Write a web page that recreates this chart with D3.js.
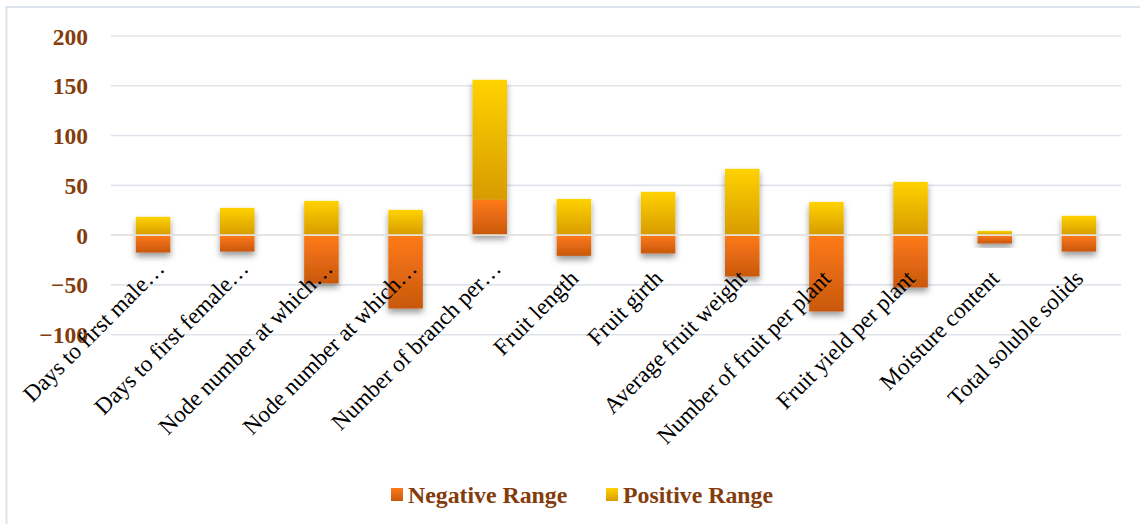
<!DOCTYPE html>
<html><head><meta charset="utf-8">
<script src="https://cdn.jsdelivr.net/npm/d3@7"></script>
<style>
html,body{margin:0;padding:0;background:#fff;overflow:hidden;}
</style></head>
<body>
<svg id="chart" width="1140" height="524"></svg>
<script>
const categories = ["Days to first male…","Days to first female…","Node number at which…","Node number at which…","Number of branch per…","Fruit length","Fruit girth","Average fruit weight","Number of fruit per plant","Fruit yield per plant","Moisture content","Total soluble solids"];
const negativeRange = [-17.5,-16.5,-48.6,-73.7,35.5,-20.8,-18.4,-41.5,-76.7,-52.6,-8.4,-16.5];
const positiveRange = [18.4,27.4,34.4,25.4,120.5,36.4,43.5,66.6,33.4,53.5,4.3,19.4];
const yTicks = [-100,-50,0,50,100,150,200];
const seriesNames = ["Negative Range","Positive Range"];

const svg = d3.select("#chart");
const defs = svg.append("defs");
function grad(id, c1, c2){
  const g = defs.append("linearGradient").attr("id", id).attr("x1",0).attr("y1",0).attr("x2",0).attr("y2",1);
  g.append("stop").attr("offset","0%").attr("stop-color",c1);
  g.append("stop").attr("offset","100%").attr("stop-color",c2);
}
grad("gNeg","#FF7A18","#C8580E");
grad("gPos","#FFD200","#D79B00");
const f = defs.append("filter").attr("id","shadow").attr("x","-30%").attr("y","-30%").attr("width","160%").attr("height","160%");
f.append("feDropShadow").attr("dx",0).attr("dy",4).attr("stdDeviation",3).attr("flood-color","#000").attr("flood-opacity",0.4);

// chart border
svg.append("rect").attr("x",6.5).attr("y",7).attr("width",1160).attr("height",540)
  .attr("fill","none").attr("stroke","#dde3ea").attr("stroke-width",2);

const x0 = 111, x1 = 1121;
const x = d3.scaleBand().domain(categories.map((d,i)=>i)).range([x0,x1]).paddingInner(0.59).paddingOuter(0.295);
const y = d3.scaleLinear().domain([-100,200]).range([334.7,36]);

// gridlines
svg.append("g").selectAll("line").data(yTicks).join("line")
  .attr("x1",x0).attr("x2",x1).attr("y1",d=>y(d)).attr("y2",d=>y(d))
  .attr("stroke","#dfe4ea").attr("stroke-width",1.6);

// y axis labels
const yAxis = d3.axisLeft(y).tickValues(yTicks).tickSize(0).tickPadding(0);
const yg = svg.append("g").attr("transform","translate(88,0)").call(yAxis);
yg.select(".domain").remove();
yg.selectAll("text").attr("font-family","'Liberation Serif','Times New Roman',serif")
  .attr("font-weight","bold").attr("font-size",23.5).attr("fill","#843C0C").attr("dy","0.34em");

// stacked bars
const rows = categories.map((c,i)=>({i, neg:negativeRange[i], pos:positiveRange[i]}));
const bars = svg.append("g");
rows.forEach(r=>{
  let negY0, negY1, posY0, posY1;
  if (r.neg >= 0){ negY0 = 0; negY1 = r.neg; posY0 = r.neg; posY1 = r.neg + r.pos; }
  else { negY0 = r.neg; negY1 = 0; posY0 = 0; posY1 = r.pos; }
  const g = bars.append("g").attr("filter","url(#shadow)");
  g.append("rect").attr("x",x(r.i)).attr("width",x.bandwidth())
    .attr("y",y(negY1)).attr("height",y(negY0)-y(negY1)).attr("fill","url(#gNeg)");
  g.append("rect").attr("x",x(r.i)).attr("width",x.bandwidth())
    .attr("y",y(posY1)).attr("height",y(posY0)-y(posY1)).attr("fill","url(#gPos)");
});
// zero line over bars
svg.append("line").attr("x1",x0).attr("x2",x1).attr("y1",y(0)).attr("y2",y(0))
  .attr("stroke","#e6e3dc").attr("stroke-width",1.6);

// x labels
const xl = svg.append("g");
categories.forEach((c,i)=>{
  const cx = x(i) + x.bandwidth()/2;
  const truncated = c.endsWith("…");
  const ax = truncated ? cx + 7 : cx + 0;
  const ay = truncated ? y(0) + 29 : y(0) + 39;
  xl.append("text").attr("transform",`translate(${ax},${ay}) rotate(-45)`)
    .attr("text-anchor","end").attr("dy","0.35em")
    .attr("font-family","'Liberation Serif','Times New Roman',serif").attr("font-size",23.2)
    .attr("fill","#000").text(c);
});

// legend
const legend = svg.append("g");
const legX = [391, 606];
seriesNames.forEach((s,i)=>{
  legend.append("rect").attr("x",legX[i]).attr("y",488).attr("width",12).attr("height",13)
    .attr("fill", i===0 ? "url(#gNeg)" : "url(#gPos)");
  legend.append("text").attr("x",legX[i]+17).attr("y",503)
    .attr("font-family","'Liberation Serif','Times New Roman',serif").attr("font-weight","bold")
    .attr("font-size",23.8).attr("fill","#843C0C").text(s);
});
</script>
</body></html>
